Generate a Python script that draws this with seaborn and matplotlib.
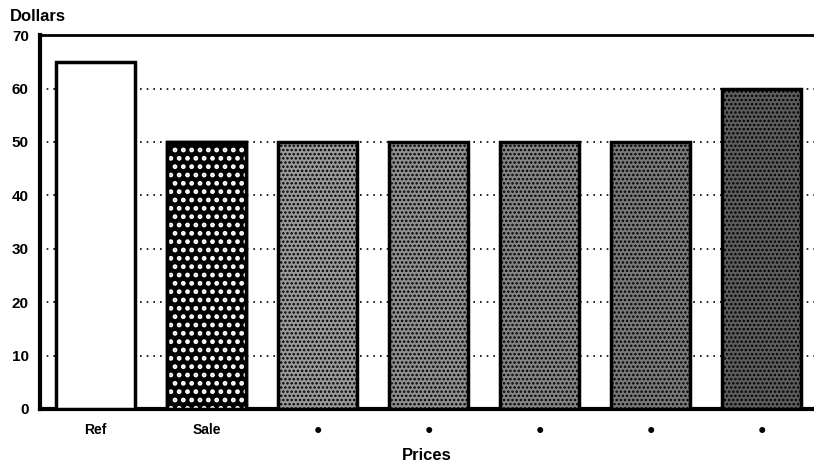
import matplotlib
matplotlib.use('Agg')
import matplotlib.pyplot as plt
from matplotlib.patches import Rectangle
import seaborn as sns
import numpy as np

# prices chart, 7 bars, first is the reference price
categories = ['Ref', 'Sale', '• ', '•  ', '•   ', '•    ', '•     ']
prices = [65, 50, 50, 50, 50, 50, 60]
bar_colors = ['#ffffff', '#000000', '#9a9a9a', '#909090', '#858585', '#7a7a7a', '#5e5e5e']
hatches = ['', '', '....', '....', '....', '....', '....']

sns.set_style('white')
plt.rcParams['font.family'] = ['Liberation Sans', 'DejaVu Sans']
plt.rcParams['font.weight'] = 'bold'
plt.rcParams['text.color'] = 'black'
plt.rcParams['xtick.color'] = 'black'
plt.rcParams['ytick.color'] = 'black'
plt.rcParams['axes.labelcolor'] = 'black'
plt.rcParams['hatch.linewidth'] = 1.2

fig = plt.figure(figsize=(8.14, 4.69), dpi=100)
ax = fig.add_axes([0.049, 0.128, 0.951, 0.797])

sns.barplot(x=categories, y=prices, hue=categories, palette=bar_colors, legend=False,
            width=0.71, edgecolor='black', linewidth=2.5, saturation=1, ax=ax, zorder=3)

for bar, h in zip(ax.patches, hatches):
    if h:
        bar.set_hatch(h)

# bigger solid white dots on the black sale bar
plt.rcParams['hatch.linewidth'] = 2.2
sale = ax.patches[1]
ax.add_patch(Rectangle(sale.get_xy(), sale.get_width(), sale.get_height(),
                       facecolor='none', edgecolor='white', hatch='..', linewidth=0, zorder=4))
plt.rcParams['hatch.linewidth'] = 1.2
ax.add_patch(Rectangle(sale.get_xy(), sale.get_width(), sale.get_height(),
                       facecolor='none', edgecolor='black', linewidth=2.5, zorder=5))

ax.set_ylim(0, 70)
ax.set_xlim(-0.5, 6.47)
ax.set_yticks(np.arange(0, 80, 10))
ax.set_yticklabels([str(v) for v in range(0, 80, 10)], fontsize=11, fontweight='bold')
ax.set_xticks(range(len(categories)))
ax.set_xticklabels(['Ref', 'Sale', '●', '●', '●', '●', '●'], fontsize=10, fontweight='bold')
ax.tick_params(axis='both', length=0, pad=8)
ax.tick_params(axis='x', pad=10)

ax.yaxis.grid(True, linestyle=(0, (1, 3)), color='black', linewidth=1.2)
ax.set_axisbelow(True)

for side in ['left', 'bottom']:
    ax.spines[side].set_linewidth(3)
    ax.spines[side].set_color('black')
ax.spines['top'].set_linewidth(2)
ax.spines['top'].set_color('black')
ax.spines['right'].set_visible(False)

ax.set_xlabel('Prices', fontsize=12, fontweight='bold', labelpad=8)
ax.set_ylabel('')
fig.text(0.012, 0.965, 'Dollars', fontsize=12, fontweight='bold', ha='left', va='center')

plt.savefig('out.png', dpi=100)
